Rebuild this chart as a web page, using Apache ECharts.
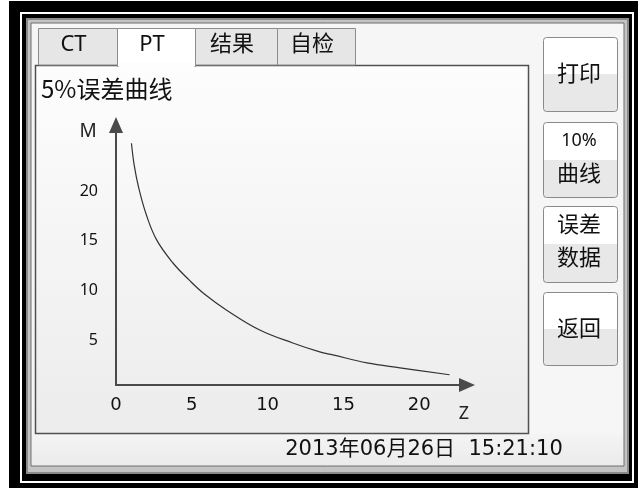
<!DOCTYPE html>
<html><head><meta charset="utf-8">
<script src="https://cdn.jsdelivr.net/npm/echarts@6/dist/echarts.min.js"></script>
<style>html,body{margin:0;padding:0;background:#fff;}#c{width:638px;height:488px;}</style>
</head><body><div id="c"></div>
<script>
// ---- data ----
const zValues = [1.02, 1.2, 1.5, 2.0, 2.67, 3.73, 4.85, 5.85, 7.3, 9.48, 11.66, 13.44, 14.3, 16.55, 18.73, 22.0];
const mValues = [24.8, 22.6, 20.3, 17.6, 15.1, 12.8, 11.0, 9.6, 8.0, 6.0, 4.7, 3.8, 3.5, 2.7, 2.2, 1.5];
const xTickLabels = [0, 5, 10, 15, 20];
const yTickLabels = [5, 10, 15, 20];
const xName = 'Z';
const yName = 'M';
const tabNames = ['CT', 'PT', '结果', '自检'];
const buttonLabels = [['打印'], ['10%', '曲线'], ['误差', '数据'], ['返回']];
const titleText = '5%误差曲线';
const dateText = '2013年06月26日  15:21:10';

const chart = echarts.init(document.getElementById('c'));
const LG = echarts.graphic.LinearGradient;
const CJK = "'Noto Sans CJK SC'";
const g = [];

// outer frame
g.push({type:'rect', z:-20, shape:{x:9,y:1,width:629,height:487}, style:{fill:'#000'}});
g.push({type:'rect', z:-19, shape:{x:21,y:13,width:612,height:469}, style:{fill:'none', stroke:'#fff', lineWidth:2}});
g.push({type:'rect', z:-18, shape:{x:26,y:18,width:603,height:456}, style:{fill:'#8a8a8a'}});
g.push({type:'rect', z:-17, shape:{x:28,y:20,width:599,height:452}, style:{fill:'#c4c4c4'}});
g.push({type:'rect', z:-16, shape:{x:31,y:23,width:593,height:443}, style:{fill:'#f6f6f6', stroke:'#6a6a6a', lineWidth:1}});
// status bar
g.push({type:'rect', z:-15, shape:{x:32,y:434,width:591,height:31}, style:{fill:new LG(0,0,0,1,[{offset:0,color:'#f4f4f4'},{offset:1,color:'#ebebeb'}])}});
// chart panel
g.push({type:'rect', z:-14, shape:{x:35.5,y:65.5,width:493,height:368}, style:{fill:new LG(0,0,0,1,[{offset:0,color:'#fdfdfd'},{offset:1,color:'#ececec'}]), stroke:'#505050', lineWidth:1.5}});

// tabs
const tabX = [38, 117, 195, 277, 355];
tabNames.forEach((t, i) => {
  const sel = i === 1;
  g.push({type:'rect', z:-13, shape:{x:tabX[i]+0.5, y:28.5, width:tabX[i+1]-tabX[i], height:sel ? 38 : 36.5},
    style:{fill: sel ? '#ffffff' : '#e6e6e6', stroke:'#8c8c8c', lineWidth:1}});
  if (sel) g.push({type:'rect', z:-12, shape:{x:tabX[i]+1.5, y:62, width:tabX[i+1]-tabX[i]-2, height:5}, style:{fill:'#fdfdfd'}});
  g.push({type:'text', z:5, x:(tabX[i]+tabX[i+1])/2 - 4, y:45,
    style:{text:t, font:"22px 'Noto Sans', " + CJK, fill:'#111', align:'center', verticalAlign:'middle'}});
});

// title
g.push({type:'text', z:5, x:41, y:89, style:{text:titleText, font:"24px " + CJK, fill:'#111', align:'left', verticalAlign:'middle'}});

// buttons
const btnY = [[37, 111], [122, 197], [206, 282], [292, 365]];
const btnTextY = [[73], [141, 173], [224, 257], [328]];
buttonLabels.forEach((lines, i) => {
  const [y0, y1] = btnY[i];
  g.push({type:'rect', z:-12, shape:{x:543.5, y:y0+0.5, width:74, height:y1-y0, r:3},
    style:{fill:new LG(0,0,0,1,[{offset:0,color:'#ffffff'},{offset:0.5,color:'#ffffff'},{offset:0.5,color:'#e8e8e8'},{offset:1,color:'#e8e8e8'}]), stroke:'#8a8a8a', lineWidth:1}});
  lines.forEach((s, k) => {
    const small = /^[0-9%]+$/.test(s);
    g.push({type:'text', z:5, x:579, y:btnTextY[i][k],
      style:{text:s, font:(small ? "18px 'Noto Sans'" : "22px " + CJK), fill:'#111', align:'center', verticalAlign:'middle'}});
  });
});

// date
g.push({type:'text', z:5, x:424, y:450, style:{text:dateText, font:"21px 'DejaVu Sans', " + CJK, fill:'#111', align:'center', verticalAlign:'middle'}});
// axis names
g.push({type:'text', z:5, x:88, y:132, style:{text:yName, font:"19px 'Noto Sans'", fill:'#222', align:'center', verticalAlign:'middle'}});
g.push({type:'text', z:5, x:464, y:414, style:{text:xName, font:"18px 'Noto Sans'", fill:'#222', align:'center', verticalAlign:'middle'}});

const axisLine = {show:true, onZero:false, symbol:['none','triangle'], symbolSize:[14,16], lineStyle:{color:'#4a4a4a', width:2}};

chart.setOption({
  animation:false,
  graphic:g,
  grid:{left:116, top:125, width:351, height:260, containLabel:false},
  xAxis:{type:'value', min:0, max:23.15, interval:5,
    axisLine:axisLine, axisTick:{show:false}, splitLine:{show:false},
    axisLabel:{margin:11, color:'#111', fontFamily:'DejaVu Sans', fontSize:18,
      formatter:v => xTickLabels.includes(v) ? String(v) : ''}},
  yAxis:{type:'value', min:0.47, max:26.64, splitNumber:5,
    axisLine:axisLine, axisTick:{show:false}, splitLine:{show:false},
    axisLabel:{margin:18, color:'#111', fontFamily:'Noto Sans', fontSize:16,
      formatter:v => yTickLabels.includes(v) ? String(v) : ''}},
  series:[{type:'line', data:zValues.map((z, i) => [z, mValues[i]]), smooth:0.4, showSymbol:false,
    lineStyle:{color:'#333', width:1.2}}]
});
</script></body></html>
